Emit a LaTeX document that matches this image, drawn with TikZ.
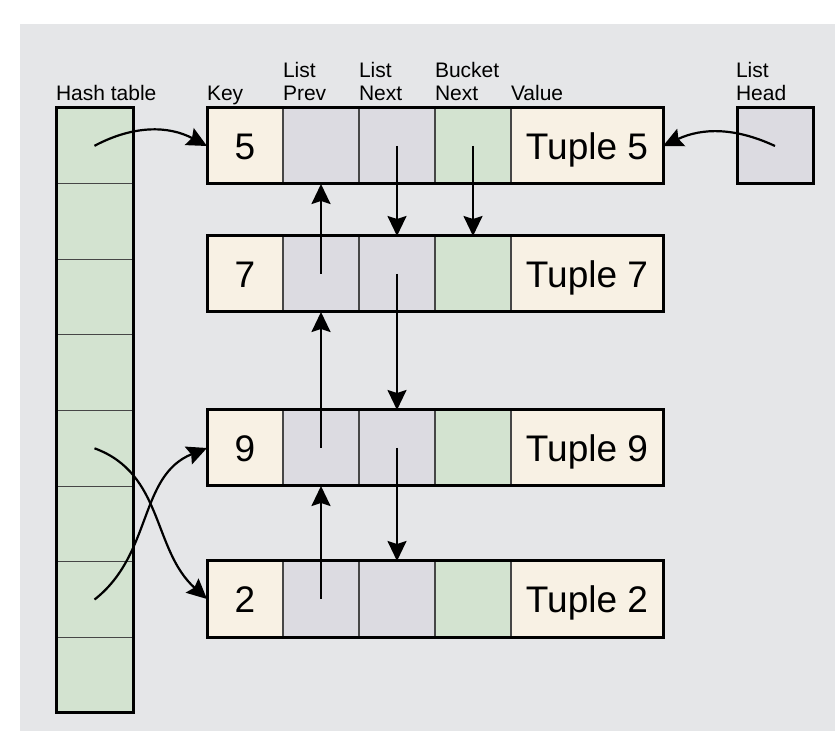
\documentclass[tikz,border=0pt]{standalone}
\usepackage{fontspec}
\setmainfont{Liberation Sans}
\usetikzlibrary{arrows.meta}
\definecolor{bggray}{RGB}{229,230,232}
\definecolor{cream}{RGB}{248,241,228}
\definecolor{lilac}{RGB}{220,219,225}
\definecolor{mint}{RGB}{211,227,208}
\definecolor{divgray}{RGB}{70,70,70}
\begin{document}
\begin{tikzpicture}[x=1pt,y=1pt,
  cell/.style={draw=divgray, line width=1.2pt, inner sep=0pt, outer sep=0pt,
    minimum height=76pt, minimum width=76pt,
    text height=26.5pt, text depth=0pt, font=\fontsize{37}{40}\selectfont},
  keycell/.style={cell, fill=cream},
  ptrcell/.style={cell, fill=lilac},
  bktcell/.style={cell, fill=mint},
  valcell/.style={cell, fill=cream, minimum width=152pt},
  hcell/.style={cell, fill=mint, minimum width=77pt, minimum height=75.625pt},
  frame/.style={draw=black, line width=3pt},
  lbl/.style={anchor=base west, inner sep=0pt, outer sep=0pt, font=\fontsize{21}{23}\selectfont},
  arr/.style={-{Stealth[length=20pt,width=19pt,inset=3pt]}, line width=2.2pt, black}
]
% canvas and background panel
\useasboundingbox (0,0) rectangle (835,731);
\fill[bggray] (20,0) rectangle (835,707);

% hash table column
\foreach \i in {0,...,7}
  \node[hcell] (h\i) at (94.5,{585.19-75.625*\i}) {};
\draw[frame] (h0.north west) rectangle (h7.south east);

% tuple records: key | list prev | list next | bucket next | value
\foreach \r/\y in {5/585,7/457,9/283,2/132}{
  \node[keycell] (k\r) at (245,\y) {\r};
  \node[ptrcell] (p\r) at (321,\y) {};
  \node[ptrcell] (n\r) at (397,\y) {};
  \node[bktcell] (b\r) at (473,\y) {};
  \node[valcell] (v\r) at (587,\y) {Tuple \r};
  \draw[frame] (k\r.north west) rectangle (v\r.south east);
}

% list head pointer
\node[ptrcell, frame] (lh) at (775,585) {};

% column headings
\node[lbl] (lht) at (56,630.3) {Hash table};
\node[lbl] (lkey) at (207,630.3) {Key};
\node[lbl] (lpv1) at (283,653.3) {List};
\node[lbl] (lpv2) at (283,630.3) {Prev};
\node[lbl] (lnx1) at (359,653.3) {List};
\node[lbl] (lnx2) at (359,630.3) {Next};
\node[lbl] (lbk1) at (435,653.3) {Bucket};
\node[lbl] (lbk2) at (435,630.3) {Next};
\node[lbl] (lval) at (511,630.3) {Value};
\node[lbl] (lhd1) at (736,653.3) {List};
\node[lbl] (lhd2) at (736,630.3) {Head};

% hash buckets into records
\draw[arr] (h0.center) to[out=28,in=152] (k5.west);
\draw[arr] (h4.center) to[out=-20,in=138] (k2.west);
\draw[arr] (h6.center) to[out=38,in=-158] (k9.west);

% list head into first record
\draw[arr] (lh.center) to[out=155,in=25] (v5.east);

% list next / bucket next links
\draw[arr] (n5.center) -- (n7.north);
\draw[arr] (b5.center) -- (b7.north);
\draw[arr] (n7.center) -- (n9.north);
\draw[arr] (n9.center) -- (n2.north);

% list prev links
\draw[arr] (p7.center) -- (p5.south);
\draw[arr] (p9.center) -- (p7.south);
\draw[arr] (p2.center) -- (p9.south);
\end{tikzpicture}
\end{document}
